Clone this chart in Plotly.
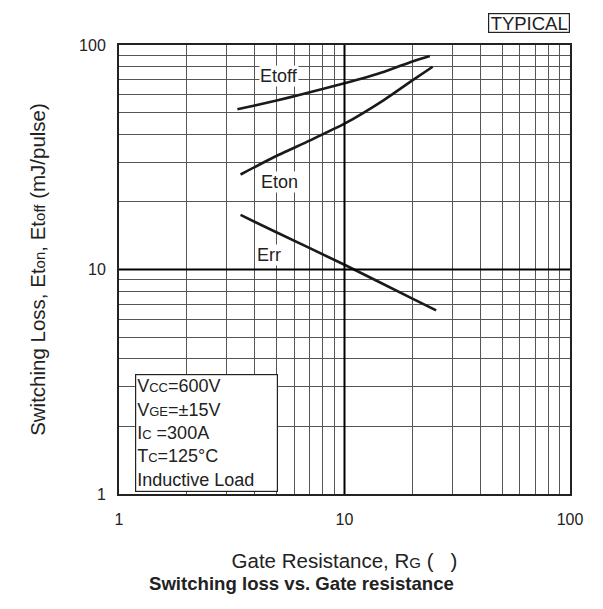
import math
import plotly.graph_objects as go

# Data
rg_etoff = [3.35, 4.0, 5.0, 6.35, 10.0, 15.0, 20.0, 23.9]
etoff = [51.7, 53.8, 56.6, 60.0, 67.5, 76.0, 84.5, 89.3]

rg_eton = [3.46, 4.88, 7.0, 10.0, 15.0, 20.0, 24.6]
eton = [26.5, 31.7, 37.5, 44.6, 57.0, 69.6, 80.0]

rg_err = [3.46, 4.88, 10.0, 19.9, 25.5]
err = [17.5, 14.8, 10.5, 7.44, 6.58]

labels = ["Etoff", "Eton", "Err"]
label_x = [5.12, 5.17, 4.64]
label_y = [72.8, 24.5, 11.57]

grid_vals = [1, 2, 3, 4, 5, 6, 7, 8, 9, 10, 20, 30, 40, 50, 60, 70, 80, 90, 100]
grid_text = ["1", "", "", "", "", "", "", "", "", "10", "", "", "", "", "", "", "", "", "100"]

FONT = "Liberation Sans, Arial, Helvetica, sans-serif"
small = lambda s, sz=13: f"<span style='font-size:{sz}px'>{s}</span>"

fig = go.Figure()
for xs, ys in [(rg_etoff, etoff), (rg_eton, eton), (rg_err, err)]:
    fig.add_trace(go.Scatter(x=xs, y=ys, mode="lines",
                             line=dict(color="#1a1a1a", width=2.6, shape="spline", smoothing=0.5),
                             showlegend=False, hoverinfo="skip"))

for t, x, y in zip(labels, label_x, label_y):
    fig.add_annotation(x=math.log10(x), y=math.log10(y), xref="x", yref="y", text=t, showarrow=False,
                       font=dict(size=18, color="#222", family=FONT), bgcolor="white", borderpad=0)

# thick decade lines at 10
fig.add_vline(x=10, line=dict(color="black", width=2))
fig.add_hline(y=10, line=dict(color="black", width=2))

cond = ("V" + small("CC") + "=600V<br>V" + small("GE") + "=±15V<br>I" + small("C") +
        " =300A<br>T" + small("C") + "=125°C<br>Inductive Load")
fig.add_annotation(xref="paper", yref="paper", x=0.035, y=0.268, xanchor="left", yanchor="top",
                   text=cond, align="left", showarrow=False, bgcolor="white",
                   bordercolor="#222", borderwidth=1.2, borderpad=1, width=139,
                   font=dict(size=18, color="#222", family=FONT))

fig.add_annotation(xref="paper", yref="paper", x=1.0, y=1.026, xanchor="right", yanchor="bottom",
                   text="TYPICAL", showarrow=False, bordercolor="#222", borderwidth=1.2, borderpad=0,
                   width=80, height=18,
                   font=dict(size=18.5, color="#222", family=FONT))

fig.add_annotation(xref="paper", yref="paper", x=0.405, y=-0.2, xanchor="center", yanchor="middle",
                   text="<b>Switching loss vs. Gate resistance</b>", showarrow=False,
                   font=dict(size=18.6, color="#222", family=FONT))

axis_common = dict(type="log", showgrid=True, gridcolor="#555", gridwidth=1,
                   showline=True, linecolor="#222", linewidth=2, mirror=True,
                   ticks="", zeroline=False, tickfont=dict(size=16, color="#222", family=FONT))

fig.update_xaxes(range=[0, 2], tickvals=grid_vals, ticktext=grid_text, ticklabelstandoff=10,
                 title=dict(text="Gate Resistance, R" + small("G", 15) + " (   )",
                            font=dict(size=20.5, color="#222", family=FONT), standoff=26),
                 **axis_common)
fig.update_yaxes(range=[0, 2], tickvals=grid_vals, ticktext=grid_text, ticklabelstandoff=8,
                 title=dict(text="Switching Loss, Et" + small("on", 15) + ", Et" + small("off", 15) + " (mJ/pulse)",
                            font=dict(size=20.5, color="#222", family=FONT), standoff=28),
                 **axis_common)

fig.update_layout(width=603, height=609, margin=dict(l=111, r=41, t=37, b=123),
                  plot_bgcolor="white", paper_bgcolor="white",
                  font=dict(family=FONT, color="#222"))

fig.write_html("out.html")
